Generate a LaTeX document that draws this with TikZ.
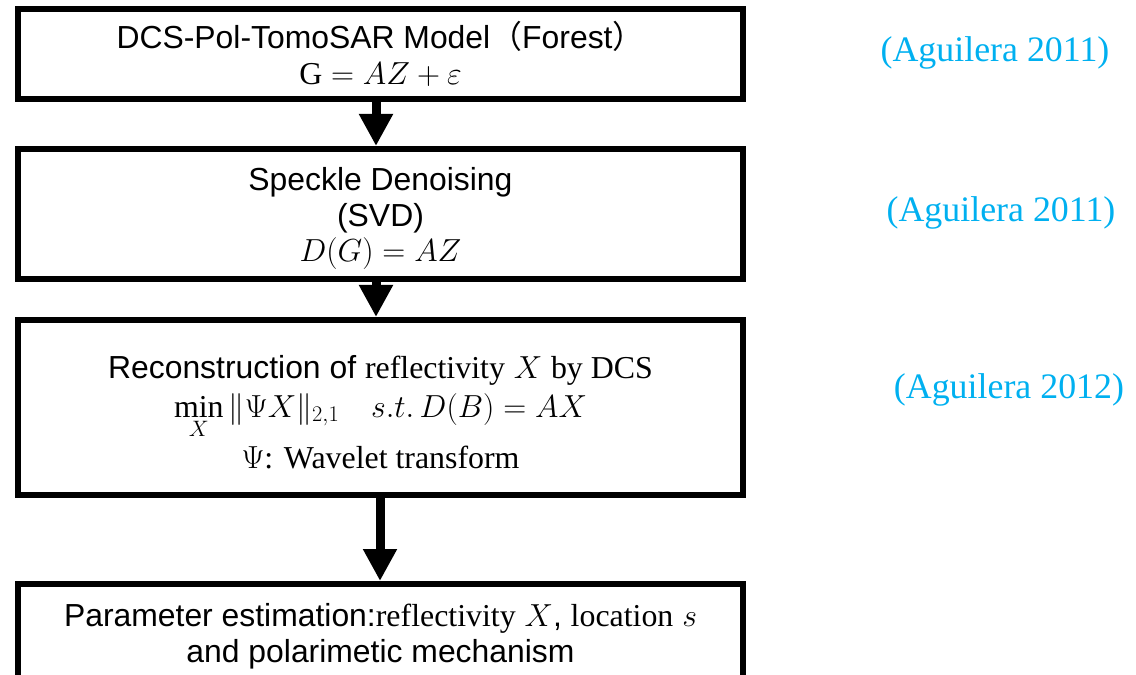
\documentclass[tikz,border=0pt]{standalone}
\usepackage{fix-cm}
\usepackage{amsmath}
\usepackage{fontspec}
\setmainfont{Liberation Serif}
\setsansfont{Liberation Sans}
\newfontfamily\cjk{Noto Sans CJK SC}
\usetikzlibrary{arrows.meta}
\definecolor{citeblue}{HTML}{00B0F0}
\tikzset{
  stepbox/.style={draw, line width=6bp, minimum width=725bp, align=center,
    inner sep=0pt, font=\sffamily\fontsize{32}{36}\selectfont},
  flow/.style={line width=9bp, -{Triangle[width=32bp,length=32bp]}},
  cite/.style={text=citeblue, font=\rmfamily\fontsize{36}{40}\selectfont}
}

\begin{document}
\begin{tikzpicture}[x=1bp, y=-1bp]
      \useasboundingbox (0,0) rectangle (1136,675);
      \clip (0,0) rectangle (1136,675);
      % the four steps
      \node[stepbox, minimum height=90bp] (model) at (380.5,54)
        {DCS-Pol-TomoSAR Model{\cjk （}Forest{\cjk ）}\\ $\mathrm{G}=AZ+\varepsilon$};
      \node[stepbox, minimum height=130bp] (denoise) at (380.5,214)
        {\rule{0pt}{32bp}Speckle Denoising\\ (SVD)\\ $D(G)=AZ$};
      \node[stepbox, minimum height=175bp] (recon) at (380.5,407.5)
        {\rule{0pt}{32bp}Reconstruction of {\rmfamily reflectivity} $X$ {\rmfamily by DCS}\\[3bp]
         $\min\limits_{X}\|\Psi X\|_{2,1}\quad s.t.\,D(B)=AX$\\[6bp]
         $\Psi$\rmfamily: Wavelet transform};
      \node[stepbox, minimum height=104bp] (param) at (380.5,636)
        {Parameter estimation:{\rmfamily reflectivity} $X$, {\rmfamily location} $s$\\
         and polarimetic mechanism};
      % references
      \node[cite] (ref1) at (995,53) {(Aguilera 2011)};
      \node[cite] (ref2) at (1001,213) {(Aguilera 2011)};
      \node[cite] (ref3) at (1009,390) {(Aguilera 2012)};
      % arrows
      \draw[flow] ([xshift=-4.5bp]model.south) -- ([xshift=-4.5bp]denoise.north);
      \draw[flow] ([xshift=-4.5bp]denoise.south) -- ([xshift=-4.5bp]recon.north);
      \draw[flow] ([xshift=-0.5bp]recon.south) -- ([xshift=-0.5bp]param.north);
    \end{tikzpicture}
\end{document}
